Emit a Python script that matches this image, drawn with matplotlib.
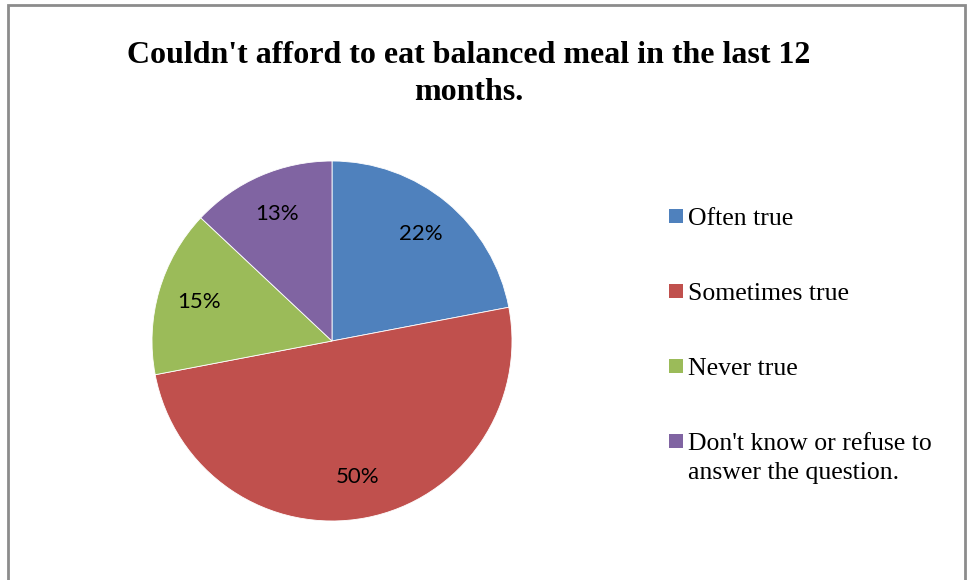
import matplotlib.pyplot as plt
from matplotlib.patches import Rectangle

# Share of respondents by answer
answers = ["Often true", "Sometimes true", "Never true",
           "Don't know or refuse to\nanswer the question."]
shares = [22, 50, 15, 13]
colors = ["#4f81bd", "#c0504d", "#9bbb59", "#8064a2"]

W, H = 969, 580
fig = plt.figure(figsize=(W / 100, H / 100), dpi=100)

# pie centred at (332, 341) px with radius 180 px
cx, cy, r = 332, 341, 180
ax = fig.add_axes([(cx - r) / W, (H - cy - r) / H, 2 * r / W, 2 * r / H])
wedges, _, autotexts = ax.pie(shares, colors=colors, startangle=90, counterclock=False,
                              autopct='%1.0f%%', pctdistance=0.77,
                              wedgeprops=dict(linewidth=0.6, edgecolor='white'),
                              textprops=dict(fontsize=16, family='Lato', color='black'))
ax.set_xlim(-1, 1)
ax.set_ylim(-1, 1)

fig.text(469 / W, 1 - 74 / H, "Couldn't afford to eat balanced meal in the last 12\nmonths.",
         ha='center', va='center', fontsize=23, fontweight='bold',
         family='Liberation Serif', linespacing=1.4)

# legend: square swatch followed by label, rows 75 px apart
for i, (name, col) in enumerate(zip(answers, colors)):
    y = 216 + 75 * i
    fig.patches.append(Rectangle((669 / W, 1 - (y + 7) / H), 14 / W, 14 / H,
                                 transform=fig.transFigure, facecolor=col,
                                 edgecolor='none'))
    fig.text(688 / W, 1 - (y - 8) / H, name, ha='left', va='top',
             fontsize=18.5, family='Liberation Serif', linespacing=1.4)

# chart frame
fig.patches.append(Rectangle((7.5 / W, -0.05), 957 / W, 1.05 - 5.5 / H,
                             transform=fig.transFigure, fill=False,
                             edgecolor='#8c8c8c', linewidth=2, clip_on=False))

fig.savefig("out.png", dpi=100)
